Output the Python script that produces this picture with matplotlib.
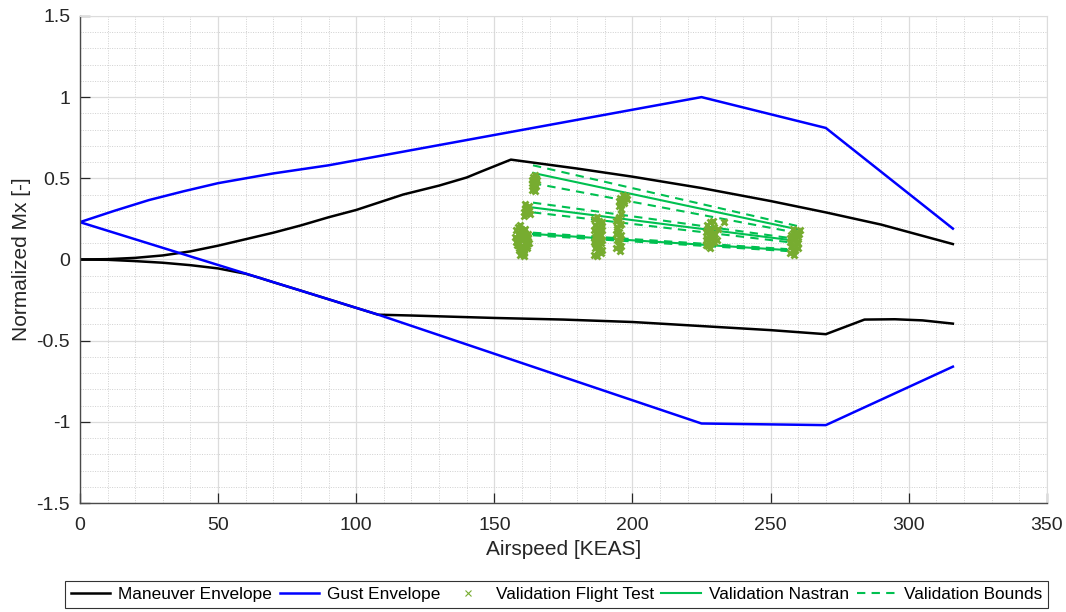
import matplotlib
matplotlib.use("Agg")
import matplotlib.pyplot as plt
from matplotlib.ticker import MultipleLocator, FormatStrFormatter

plt.rcParams["font.family"] = ["Liberation Sans", "DejaVu Sans"]
plt.rcParams["axes.unicode_minus"] = False

# maneuver envelope (upper and lower branches)
man_up_x = [0, 10, 20, 30, 40, 50, 60, 70, 80, 90, 100, 117, 130, 140, 145, 156,
            180, 200, 225, 250, 270, 290, 316]
man_up_y = [0, 0.002, 0.01, 0.025, 0.05, 0.085, 0.125, 0.165, 0.21, 0.26, 0.305,
            0.40, 0.455, 0.505, 0.54, 0.615, 0.56, 0.51, 0.44, 0.36, 0.29, 0.215, 0.095]
man_lo_x = [0, 10, 20, 30, 40, 50, 60, 65, 70, 80, 90, 100, 108, 120, 150, 175,
            200, 225, 250, 270, 284, 295, 305, 316]
man_lo_y = [0, -0.002, -0.01, -0.02, -0.035, -0.055, -0.088, -0.113, -0.14, -0.192,
            -0.245, -0.298, -0.34, -0.345, -0.36, -0.37, -0.385, -0.41, -0.435,
            -0.46, -0.37, -0.368, -0.375, -0.395]

# gust envelope
gust_up_x = [0, 12.5, 25, 37.5, 50, 70, 90, 225, 270, 316]
gust_up_y = [0.23, 0.30, 0.366, 0.42, 0.47, 0.53, 0.58, 1.0, 0.81, 0.19]
gust_lo_x = [0, 108, 225, 270, 316]
gust_lo_y = [0.23, -0.34, -1.01, -1.02, -0.66]

# flight test points
ft_x = [158.0, 158.6, 159.2, 159.8, 160.4, 161.0, 161.6, 162.2, 157.6, 158.4,
        159.4, 160.2, 161.2, 162.0, 158.2, 159.0, 160.0, 161.4, 162.4, 158.8,
        159.6, 160.6, 161.8, 157.8, 159.2, 160.8, 162.2, 158.4, 160.0, 161.6,
        159.0, 160.2, 161.4, 158.6, 161.0, 162.0, 159.4, 160.6,
        160.8, 161.4, 162.0, 162.6, 161.0, 161.8, 162.4, 161.2, 162.0, 160.6, 161.6, 162.8,
        163.6, 164.2, 164.8, 165.2, 163.8, 164.6, 165.0, 164.0, 164.4, 165.4, 163.6, 164.8,
        186.0, 187.0, 188.0, 189.0, 186.5, 187.5, 188.5, 186.0, 187.0, 188.0, 189.0,
        186.5, 187.5, 188.5, 186.0, 187.0, 188.0, 189.0, 186.5, 187.5, 188.5, 187.0,
        186.2, 188.8, 187.2, 186.8, 188.2, 187.6, 186.4, 188.6, 187.4,
        194.0, 195.0, 196.0, 194.5, 195.5, 194.0, 195.0, 196.0, 194.5, 195.5, 194.0, 195.0, 196.0,
        195.2, 194.3, 195.8, 194.8, 195.4,
        195.0, 196.0, 197.0, 198.0, 195.5, 196.5, 197.5, 196.0, 197.0, 195.0,
        226.5, 227.5, 228.5, 229.5, 230.5, 227.0, 228.0, 229.0, 230.0, 226.5, 227.5,
        228.5, 229.5, 227.0, 228.0, 229.0, 231.0, 233.0, 226.8, 228.2, 229.2, 227.8,
        257.0, 258.0, 259.0, 260.0, 257.5, 258.5, 259.5, 257.0, 258.0, 259.0, 260.0,
        257.5, 258.5, 259.5, 260.5, 258.0, 259.0, 257.2, 259.8, 258.4, 260.2]
ft_y = [0.18, 0.20, 0.21, 0.19, 0.17, 0.16, 0.15, 0.14, 0.14, 0.12,
        0.15, 0.13, 0.11, 0.12, 0.09, 0.10, 0.08, 0.09, 0.10, 0.06,
        0.05, 0.04, 0.07, 0.11, 0.03, 0.06, 0.16, 0.16, 0.12, 0.13,
        0.07, 0.18, 0.12, 0.10, 0.19, 0.08, 0.14, 0.02,
        0.27, 0.28, 0.29, 0.30, 0.31, 0.32, 0.33, 0.34, 0.31, 0.29, 0.30, 0.28,
        0.43, 0.44, 0.42, 0.45, 0.47, 0.48, 0.50, 0.51, 0.46, 0.49, 0.49, 0.52,
        0.25, 0.26, 0.24, 0.23, 0.21, 0.20, 0.22, 0.18, 0.17, 0.16, 0.18,
        0.14, 0.13, 0.15, 0.11, 0.10, 0.09, 0.12, 0.07, 0.05, 0.04, 0.02,
        0.03, 0.06, 0.08, 0.16, 0.19, 0.23, 0.12, 0.10, 0.06,
        0.07, 0.09, 0.08, 0.12, 0.13, 0.16, 0.17, 0.15, 0.20, 0.21, 0.24, 0.26, 0.28,
        0.11, 0.19, 0.22, 0.25, 0.05,
        0.33, 0.34, 0.35, 0.37, 0.38, 0.40, 0.39, 0.31, 0.36, 0.36,
        0.09, 0.08, 0.10, 0.11, 0.12, 0.13, 0.14, 0.15, 0.16, 0.17, 0.18,
        0.19, 0.20, 0.21, 0.23, 0.24, 0.19, 0.23, 0.12, 0.07, 0.14, 0.17,
        0.04, 0.05, 0.06, 0.07, 0.08, 0.09, 0.10, 0.11, 0.12, 0.13, 0.14,
        0.15, 0.16, 0.17, 0.18, 0.19, 0.06, 0.13, 0.10, 0.03, 0.16]

# nastran validation lines and bounds
nas_x = [[164, 260], [164, 257], [164, 256]]
nas_y = [[0.533, 0.185], [0.32, 0.12], [0.157, 0.058]]
bnd_up_y = [[0.58, 0.205], [0.35, 0.132], [0.165, 0.064]]
bnd_lo_y = [[0.47, 0.163], [0.29, 0.106], [0.149, 0.052]]

fig = plt.figure(figsize=(10.66, 6.12), dpi=100)
ax = fig.add_axes([0.075, 0.178, 0.907, 0.796])

green = "#00C050"
olive = "#77AC30"

ax.plot(man_up_x, man_up_y, color="black", lw=1.8, label="Maneuver Envelope")
ax.plot(man_lo_x, man_lo_y, color="black", lw=1.8)
ax.plot(gust_up_x, gust_up_y, color="#0000FF", lw=1.8, label="Gust Envelope")
ax.plot(gust_lo_x, gust_lo_y, color="#0000FF", lw=1.8)
for i in range(len(nas_x)):
    ax.plot(nas_x[i], nas_y[i], color=green, lw=1.5,
            label="Validation Nastran" if i == 0 else None)
    ax.plot(nas_x[i], bnd_up_y[i], "--", color=green, lw=1.5, dashes=(4, 3),
            label="Validation Bounds" if i == 0 else None)
    ax.plot(nas_x[i], bnd_lo_y[i], "--", color=green, lw=1.5, dashes=(4, 3))
ax.plot(ft_x, ft_y, "x", color=olive, ms=5, mew=2.0, label="Validation Flight Test")

ax.set_xlim(0, 350)
ax.set_ylim(-1.5, 1.5)
ax.xaxis.set_major_locator(MultipleLocator(50))
ax.xaxis.set_minor_locator(MultipleLocator(10))
ax.yaxis.set_major_locator(MultipleLocator(0.5))
ax.yaxis.set_minor_locator(MultipleLocator(0.1))
ax.yaxis.set_major_formatter(FormatStrFormatter("%g"))
ax.grid(which="major", color="#DCDCDC", lw=0.9)
ax.grid(which="minor", color="#D0D0D0", lw=0.7, ls=(0, (1, 1.5)))
ax.set_axisbelow(True)
ax.tick_params(which="major", direction="in", length=7, width=0.9,
               colors="#262626", labelsize=14, top=False, right=False)
ax.tick_params(axis="x", which="major", pad=10)
ax.tick_params(axis="y", which="major", pad=7)
ax.tick_params(which="minor", length=0)
for s in ["left", "bottom"]:
    ax.spines[s].set_color("#4a4a4a")
    ax.spines[s].set_linewidth(1.0)
for s in ["top", "right"]:
    ax.spines[s].set_color("#DCDCDC")
ax.set_xlabel("Airspeed [KEAS]", fontsize=15, color="#262626", labelpad=4)
ax.set_ylabel("Normalized Mx [-]", fontsize=15, color="#262626", labelpad=4)

handles, labels = ax.get_legend_handles_labels()
order = ["Maneuver Envelope", "Gust Envelope", "Validation Flight Test",
         "Validation Nastran", "Validation Bounds"]
hl = dict(zip(labels, handles))
leg = fig.legend([hl[k] for k in order], order, loc="lower center",
                 bbox_to_anchor=(0.522, -0.002), ncol=5,
                 fontsize=12.4, frameon=True, fancybox=False, edgecolor="black",
                 handlelength=2.3, columnspacing=0.45, handletextpad=0.45,
                 borderpad=0.35, borderaxespad=0.3)
leg.get_frame().set_linewidth(0.8)
leg.legend_handles[2].set_markersize(4)
leg.legend_handles[2].set_markeredgewidth(0.8)

fig.savefig("out.png", dpi=100)
